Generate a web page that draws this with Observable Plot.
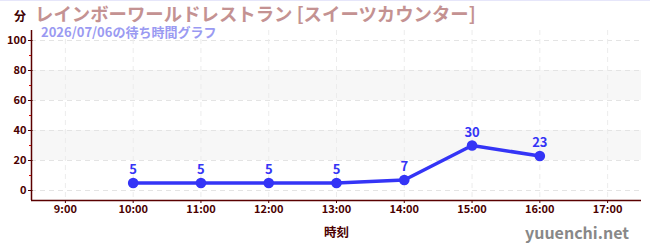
<!DOCTYPE html>
<html><head><meta charset="utf-8">
<script src="https://cdn.jsdelivr.net/npm/d3@7"></script>
<script src="https://cdn.jsdelivr.net/npm/@observablehq/plot@0.6"></script>
<style>
body{margin:0;background:#fff;}
#wrap{position:relative;width:650px;height:250px;overflow:hidden;font-family:"Noto Sans CJK JP","Noto Sans",sans-serif;font-weight:bold;}
#wrap .t{position:absolute;white-space:nowrap;line-height:1;}
#topline{position:absolute;left:0;top:0;width:650px;height:1px;background:#e6e6fa;}
#chart{position:absolute;left:0;top:0;}
</style></head>
<body>
<div id="wrap">
  <div id="chart"></div>
  <div id="topline"></div>
  <div class="t" style="left:14px;top:10px;font-size:12px;color:#3d0000;">分</div>
  <div class="t" style="left:35px;top:4px;font-size:18.4px;color:#c49292;">レインボーワールドレストラン [スイーツカウンター]</div>
  <div class="t" style="left:41px;top:24.5px;font-size:13px;color:#9a9af2;">2026/07/06の待ち時間グラフ</div>
  <div class="t" style="right:21px;top:224px;font-size:16px;color:#888;">yuuenchi.net</div>
</div>
<script>
// data
const hours = [10, 11, 12, 13, 14, 15, 16];
const waits = [5, 5, 5, 5, 7, 30, 23];
const xTicks = [9, 10, 11, 12, 13, 14, 15, 16, 17];
const xTickLabels = ["9:00", "10:00", "11:00", "12:00", "13:00", "14:00", "15:00", "16:00", "17:00"];
const yTicks = [0, 20, 40, 60, 80, 100];
const yMinor = [10, 30, 50, 70, 90];
const bands = [[20, 40], [60, 80]];

const data = hours.map((h, i) => ({h, w: waits[i]}));
const xDomain = [8.5, 17.5];
const yDomain = [-20 / 3, 320 / 3];
const maroon = "#4a0000";
const blue = "#3434f6";

const chart = Plot.plot({
  width: 650,
  height: 250,
  marginLeft: 31,
  marginRight: 9,
  marginTop: 30,
  marginBottom: 50,
  style: {fontFamily: '"Noto Sans CJK JP","Noto Sans",sans-serif', fontWeight: "bold", background: "transparent"},
  x: {domain: xDomain, label: null},
  y: {domain: yDomain, label: null},
  marks: [
    Plot.rectY(bands, {y1: d => d[0], y2: d => d[1], fill: "#f7f7f7"}),
    Plot.ruleY(yTicks, {stroke: "#e4e4e4", strokeDasharray: "5,4"}),
    Plot.ruleX(xTicks, {stroke: "#ececec", strokeDasharray: "5,4"}),
    Plot.axisY({ticks: yMinor, text: null, tickSize: 2, stroke: "#e00000", label: null}),
    Plot.axisY({ticks: yTicks, tickSize: 3, tickPadding: 2, fontSize: 11, color: maroon, label: null}),
    Plot.axisY({ticks: yTicks, text: null, tickSize: -1.5, stroke: maroon, label: null}),
    Plot.axisX({ticks: xTicks, tickFormat: d => xTickLabels[xTicks.indexOf(d)], tickSize: 3, tickPadding: 2, fontSize: 11, color: maroon, label: null}),
    Plot.ruleX([xDomain[0]], {stroke: "#5a0000", strokeWidth: 1.5}),
    Plot.ruleY([yDomain[0]], {stroke: "#5a0000", strokeWidth: 1.5}),
    Plot.line(data, {x: "h", y: "w", stroke: blue, strokeWidth: 3.5}),
    Plot.dot(data, {x: "h", y: "w", r: 5.3, fill: blue}),
    Plot.text(data, {x: "h", y: "w", text: d => String(d.w), dy: -9, lineAnchor: "bottom", fill: blue, fontSize: 13, fontWeight: "bold"}),
    Plot.text(["時刻"], {frameAnchor: "bottom", dy: 36, lineAnchor: "bottom", text: d => d, fill: maroon, fontSize: 12.5, fontWeight: "bold"})
  ]
});
document.getElementById("chart").appendChild(chart);
</script>
</body></html>
